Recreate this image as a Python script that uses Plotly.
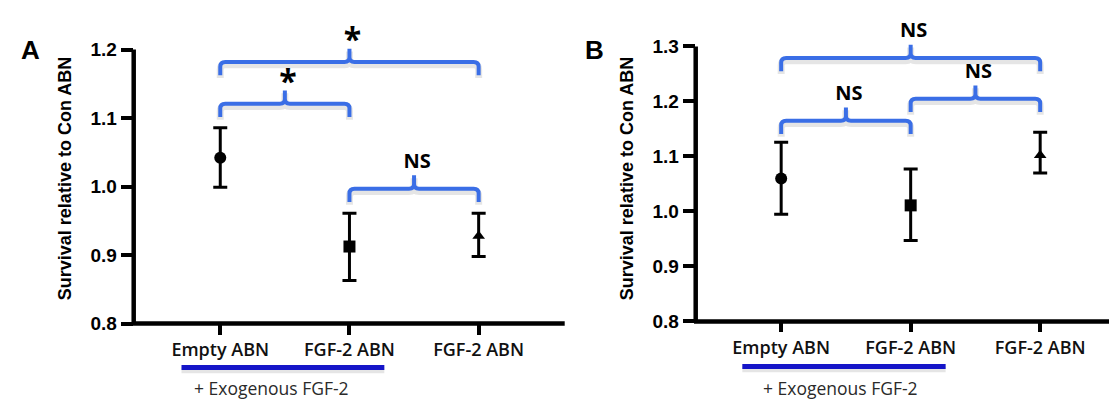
import plotly.graph_objects as go

# ---------------- data ----------------
categories = ["Empty ABN", "FGF-2 ABN", "FGF-2 ABN"]
marker_symbols = ["circle", "square", "triangle-up"]

mean_A = [1.042, 0.9125, 0.928]
upper_A = [1.086, 0.961, 0.961]
lower_A = [0.999, 0.863, 0.898]

mean_B = [1.060, 1.011, 1.102]
upper_B = [1.126, 1.077, 1.144]
lower_B = [0.995, 0.947, 1.070]

br_left_A = [0, 0, 1]
br_right_A = [1, 2, 2]
br_height_A = [1.121, 1.182, 0.997]
br_label_A = ["*", "*", "NS"]

br_left_B = [0, 1, 0]
br_right_B = [1, 2, 2]
br_height_B = [1.165, 1.205, 1.279]
br_label_B = ["NS", "NS", "NS"]

yticks_A = [0.8, 0.9, 1.0, 1.1, 1.2]
yticks_B = [0.8, 0.9, 1.0, 1.1, 1.2, 1.3]

group_members = [0, 1]
group_label = "+ Exogenous FGF-2"
y_title = "Survival relative to Con ABN"
panel_letters = ["A", "B"]

# ---------------- layout constants (pixels) ----------------
W, H = 1117, 405
BRACKET_BLUE = "#3a6ee6"
GROUP_BLUE = "#1515c8"
AXIS_LW = 4.5

panels = [
    dict(letter="A", mean=mean_A, upper=upper_A, lower=lower_A,
         bl=br_left_A, br=br_right_A, bh=br_height_A, blab=br_label_A,
         yticks=yticks_A, left=125.7, right=556.7, top=33.3, bottom=322.3,
         xr=[-0.67, 2.666], xa="x", ya="y", yb="y3",
         letter_px=(22, 34), title_px=(57, 170), group_y=368.5, group_text_x=0.40),
    dict(letter="B", mean=mean_B, upper=upper_B, lower=lower_B,
         bl=br_left_B, br=br_right_B, bh=br_height_B, blab=br_label_B,
         yticks=yticks_B, left=687.7, right=1117, top=30, bottom=320.0,
         xr=[-0.66, 2.655], xa="x2", ya="y2", yb="y4",
         letter_px=(586, 34), title_px=(619, 170), group_y=367.5, group_text_x=0.46),
]

fig = go.Figure()
shapes = []
annotations = []


def fmt(v):
    return f"{v:.6f}"


for p in panels:
    yr = [p["yticks"][0], p["yticks"][-1]]
    ppx = (p["right"] - p["left"]) / (p["xr"][1] - p["xr"][0])
    ppy = (p["bottom"] - p["top"]) / (yr[1] - yr[0])
    dom_y = [(H - p["bottom"]) / H, (H - p["top"]) / H]
    dom_x = [p["left"] / W, min(p["right"] / W, 1.0)]
    yb_top = yr[0] + p["bottom"] / ppy

    xs = list(range(len(categories)))
    # data points with error bars
    for i in xs:
        fig.add_trace(go.Scatter(
            x=[i], y=[p["mean"][i]], mode="markers",
            xaxis=p["xa"], yaxis=p["ya"],
            marker=dict(symbol=marker_symbols[i], color="black",
                        size=11 if marker_symbols[i] == "triangle-up" else 12),
            error_y=dict(type="data", symmetric=False,
                         array=[p["upper"][i] - p["mean"][i]],
                         arrayminus=[p["mean"][i] - p["lower"][i]],
                         color="black", thickness=3, width=7),
            showlegend=False, hoverinfo="skip", cliponaxis=False))

    # axis lines (drawn as domain-referenced shapes)
    shapes.append(dict(type="line", xref=p["xa"] + " domain", yref=p["ya"] + " domain",
                       x0=0, x1=0, y0=-0.004, y1=1, line=dict(color="black", width=AXIS_LW)))
    shapes.append(dict(type="line", xref=p["xa"] + " domain", yref=p["ya"] + " domain",
                       x0=-0.004, x1=1, y0=0, y1=0, line=dict(color="black", width=AXIS_LW)))

    # significance brackets
    rx, ry = 5 / ppx, 5 / ppy
    drop, rise = 14 / ppy, 14 / ppy
    tx, ty, tt, tf = [], [], [], []
    for xl, xr_, h, lab in zip(p["bl"], p["br"], p["bh"], p["blab"]):
        xm = (xl + xr_) / 2
        def path(off):
            hh = h - off
            return (f"M {fmt(xl)},{fmt(hh - drop)} L {fmt(xl)},{fmt(hh - ry)} "
                    f"Q {fmt(xl)},{fmt(hh)} {fmt(xl + rx)},{fmt(hh)} "
                    f"L {fmt(xm - rx)},{fmt(hh)} Q {fmt(xm)},{fmt(hh)} {fmt(xm)},{fmt(hh + ry)} "
                    f"L {fmt(xm)},{fmt(hh + rise)} L {fmt(xm)},{fmt(hh + ry)} "
                    f"Q {fmt(xm)},{fmt(hh)} {fmt(xm + rx)},{fmt(hh)} "
                    f"L {fmt(xr_ - rx)},{fmt(hh)} Q {fmt(xr_)},{fmt(hh)} {fmt(xr_)},{fmt(hh - ry)} "
                    f"L {fmt(xr_)},{fmt(hh - drop)}")
        shapes.append(dict(type="path", path=path(3 / ppy), xref=p["xa"], yref=p["yb"],
                           line=dict(color="rgba(0,0,0,0.10)", width=7), layer="below"))
        shapes.append(dict(type="path", path=path(0), xref=p["xa"], yref=p["yb"],
                           line=dict(color=BRACKET_BLUE, width=4), layer="above"))
        tx.append(xm + 3 / ppx)
        if lab == "*":
            ty.append(h + 20 / ppy)
        else:
            ty.append(h + 27 / ppy)
        tt.append(lab)
        tf.append(32 if lab == "*" else 20)
    fig.add_trace(go.Scatter(
        x=tx, y=ty, text=tt, mode="text", xaxis=p["xa"], yaxis=p["yb"],
        textposition="middle center",
        textfont=dict(family="Open Sans", size=tf, color="black", weight="bold"),
        showlegend=False, hoverinfo="skip", cliponaxis=False))

    # group underline and label
    gx0 = min(group_members) - 0.30
    gx1 = max(group_members) + 0.27
    gy = 1 - p["group_y"] / H
    shapes.append(dict(type="line", xref=p["xa"], yref="paper", x0=gx0, x1=gx1,
                       y0=gy - 3 / H, y1=gy - 3 / H,
                       line=dict(color="rgba(0,0,0,0.10)", width=6)))
    shapes.append(dict(type="line", xref=p["xa"], yref="paper", x0=gx0, x1=gx1,
                       y0=gy, y1=gy, line=dict(color=GROUP_BLUE, width=5)))
    annotations.append(dict(text=group_label, xref=p["xa"], yref="paper",
                            x=p["group_text_x"], y=1 - 390 / H, showarrow=False,
                            xanchor="center", yanchor="middle",
                            font=dict(family="Open Sans", size=17.5, color="#2a2a2a")))
    # panel letter and y title
    annotations.append(dict(text=p["letter"], xref="paper", yref="paper",
                            x=p["letter_px"][0] / W, y=1 - p["letter_px"][1] / H,
                            showarrow=False, xanchor="center", yanchor="middle",
                            font=dict(family="Liberation Sans", size=26, color="black",
                                      weight="bold")))
    annotations.append(dict(text=y_title, xref="paper", yref="paper",
                            x=p["title_px"][0] / W, y=1 - p["title_px"][1] / H,
                            showarrow=False, textangle=-90, xanchor="center",
                            yanchor="middle",
                            font=dict(family="Liberation Sans", size=18, color="black",
                                      weight="bold")))

    xkey = "xaxis" if p["xa"] == "x" else "xaxis" + p["xa"][1:]
    ykey = "yaxis" if p["ya"] == "y" else "yaxis" + p["ya"][1:]
    ybkey = "yaxis" + p["yb"][1:]
    fig.update_layout(**{
        xkey: dict(domain=dom_x, range=p["xr"], anchor=p["ya"], showline=False,
                   ticks="outside", ticklen=10,
                   tickwidth=4, tickcolor="black", tickvals=xs, ticktext=categories,
                   tickfont=dict(family="Open Sans", size=18, color="#111", weight=600),
                   showgrid=False, zeroline=False, fixedrange=True),
        ykey: dict(domain=dom_y, range=yr, anchor=p["xa"], showline=False,
                   ticks="outside", ticklen=12,
                   tickwidth=4, tickcolor="black", tickvals=p["yticks"],
                   tickformat=".1f",
                   tickfont=dict(family="Liberation Sans", size=19, color="black",
                                 weight="bold"),
                   showgrid=False, zeroline=False, fixedrange=True),
        ybkey: dict(domain=[dom_y[0], 1.0], range=[yr[0], yb_top], anchor=p["xa"],
                    visible=False, fixedrange=True),
    })

fig.update_layout(width=W, height=H, margin=dict(l=0, r=0, t=0, b=0),
                  paper_bgcolor="white", plot_bgcolor="rgba(0,0,0,0)",
                  shapes=shapes, annotations=annotations, showlegend=False)

fig.write_html("out.html")
